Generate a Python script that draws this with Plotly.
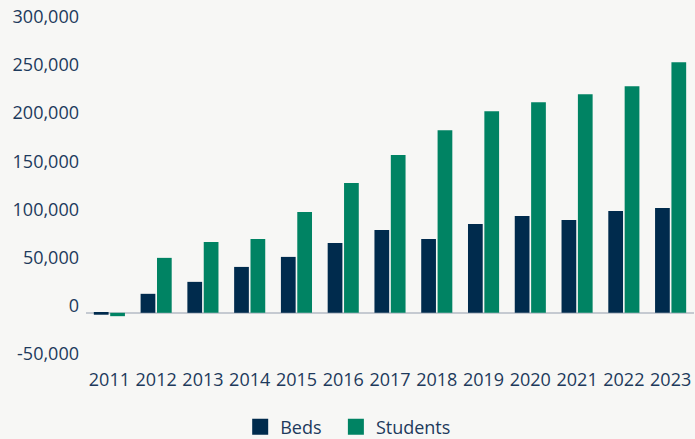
import plotly.graph_objects as go

years = ["2011", "2012", "2013", "2014", "2015", "2016", "2017", "2018",
         "2019", "2020", "2021", "2022", "2023"]
beds = [-2000, 19700, 32100, 47600, 58000, 72500, 85900, 76600,
        92200, 100400, 96300, 105600, 108700]
students = [-3500, 57000, 73500, 76600, 104600, 134600, 163600, 189500,
            209200, 218500, 226800, 235000, 259900]
y_tickvals = [-50000, 0, 50000, 100000, 150000, 200000, 250000, 300000]
y_ticktext = ["-50,000", "0", "50,000", "100,000", "150,000", "200,000", "250,000", "300,000"]

NAVY = "#002b4d"
GREEN = "#008363"
TEXT = "#1d3a5c"
BG = "#f7f7f5"
FONT = "Open Sans, Noto Sans, sans-serif"

Y_RANGE = [-50000, 310000]
PX_PER_UNIT = 338 / 350000
LABEL_SHIFT = 7 / PX_PER_UNIT  # labels sit ~7px above their value
TOP = 14
BOTTOM = 78

fig = go.Figure()
fig.add_trace(go.Bar(name="Beds", x=years, y=beds, showlegend=False,
                     marker=dict(color=NAVY, line=dict(width=0))))
fig.add_trace(go.Bar(name="Students", x=years, y=students, showlegend=False,
                     marker=dict(color=GREEN, line=dict(width=0))))
# legend entries with larger square swatches
fig.add_trace(go.Scatter(name="Beds\u00a0\u00a0", x=[None], y=[None], mode="markers",
                         marker=dict(symbol="square", size=18, color=NAVY)))
fig.add_trace(go.Scatter(name="Students", x=[None], y=[None], mode="markers",
                         marker=dict(symbol="square", size=18, color=GREEN)))
# helper trace so the label axis is drawn
fig.add_trace(go.Scatter(x=[None], y=[None], yaxis="y2", showlegend=False, hoverinfo="skip"))

fig.update_layout(
    width=695, height=439,
    margin=dict(l=86, r=1, t=TOP, b=BOTTOM, autoexpand=False),
    paper_bgcolor=BG, plot_bgcolor=BG,
    barmode="group", bargap=0.3, bargroupgap=0.1,
    font=dict(family=FONT, size=18, color=TEXT),
    showlegend=True,
    legend=dict(orientation="h", xref="container", yref="container",
                x=0.501, xanchor="center", y=0.027, yanchor="middle",
                font=dict(size=18, color=TEXT), bgcolor="rgba(0,0,0,0)"),
    hovermode=False,
    yaxis2=dict(overlaying="y", side="left", range=[Y_RANGE[0] - LABEL_SHIFT, Y_RANGE[1] - LABEL_SHIFT],
                tickvals=y_tickvals, ticktext=y_ticktext, showgrid=False, zeroline=False,
                showline=False, ticks="", ticklabelstandoff=6,
                tickfont=dict(size=18, color=TEXT)),
)
fig.update_xaxes(showgrid=False, showline=False, zeroline=False, ticks="",
                 tickfont=dict(size=18, color=TEXT), ticklabelstandoff=6)
fig.layout.yaxis.update(range=Y_RANGE, showticklabels=False,
                        showgrid=False, showline=False, zeroline=True, zerolinecolor="#c5cad1",
                        zerolinewidth=2, ticks="")

fig.write_html("out.html", config={"displayModeBar": False})
with open("out.html", encoding="utf-8") as f:
    html = f.read()
html = html.replace("<head>", "<head><style>html,body{margin:0;padding:0;background:#f7f7f5;}</style>", 1)
with open("out.html", "w", encoding="utf-8") as f:
    f.write(html)
